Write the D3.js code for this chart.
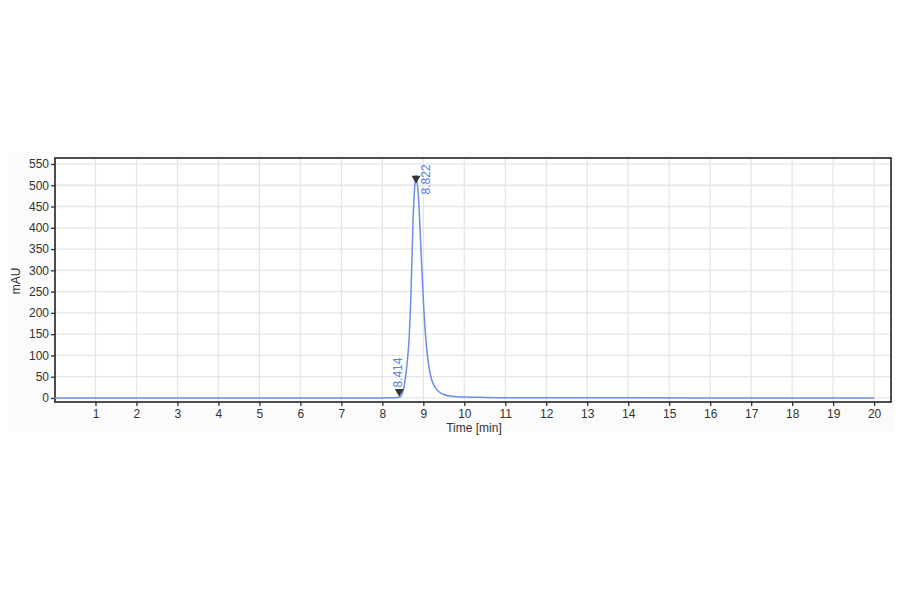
<!DOCTYPE html>
<html>
<head>
<meta charset="utf-8">
<script src="https://cdn.jsdelivr.net/npm/d3@7"></script>
<style>
  body { margin: 0; background: #fff; }
  text { font-family: "Liberation Sans", Arial, sans-serif; }
</style>
</head>
<body>
<div id="chroma"></div>
<script>
// chromatogram trace (time in min, signal in mAU)
const traceTime = [0, 2, 4, 6, 8, 8.3, 8.414, 8.5, 8.55, 8.6, 8.65, 8.7, 8.75, 8.8, 8.822,
  8.85, 8.87, 8.9, 8.95, 9.0, 9.05, 9.1, 9.15, 9.2, 9.3, 9.4, 9.5, 9.7, 10.0, 10.5, 11, 14, 17, 20];
const traceValue = [0, 0, 0, 0, 0, 0.3, 1.5, 14, 38, 78, 135, 250, 420, 508, 524,
  505, 488, 440, 330, 232, 152, 100, 66, 44, 23, 13, 8, 4, 2.2, 1.2, 0.6, 0.2, 0, 0];

// integration markers and their retention-time labels
const peakTimes = [8.414, 8.822];
const peakMarkerValues = [15, 516];
const peakLabels = ["8.414", "8.822"];

const xTicks = d3.range(1, 21);
const yTicks = d3.range(0, 551, 50);

const width = 900, height = 594;
const plot = {left: 55, right: 891, top: 158, bottom: 402};

const svg = d3.select("#chroma").append("svg")
  .attr("width", width)
  .attr("height", height);

// faint panel behind the plot
svg.append("rect")
  .attr("x", 8).attr("y", 152)
  .attr("width", 886).attr("height", 280)
  .attr("fill", "#fbfbfb");

svg.append("rect")
  .attr("x", plot.left).attr("y", plot.top)
  .attr("width", plot.right - plot.left).attr("height", plot.bottom - plot.top)
  .attr("fill", "#fff");

const x = d3.scaleLinear().domain([0, 20.4]).range([plot.left - 0.5, plot.right - 0.5]);
const y = d3.scaleLinear().domain([-9.5, 564]).range([plot.bottom, plot.top]);

// grid
svg.append("g").selectAll("line").data(xTicks).enter().append("line")
  .attr("x1", d => x(d)).attr("x2", d => x(d))
  .attr("y1", plot.top).attr("y2", plot.bottom)
  .attr("stroke", "#e6e6e6").attr("stroke-width", 1.3);
svg.append("g").selectAll("line").data(yTicks).enter().append("line")
  .attr("x1", plot.left).attr("x2", plot.right)
  .attr("y1", d => y(d)).attr("y2", d => y(d))
  .attr("stroke", "#e6e6e6").attr("stroke-width", 1.3);

// axes
const xAxis = svg.append("g")
  .attr("transform", `translate(0,${plot.bottom})`)
  .call(d3.axisBottom(x).tickValues(xTicks).tickSize(4).tickPadding(3).tickFormat(d3.format("d")));
const yAxis = svg.append("g")
  .attr("transform", `translate(${plot.left},0)`)
  .call(d3.axisLeft(y).tickValues(yTicks).tickSize(4).tickPadding(2).tickFormat(d3.format("d")));
[xAxis, yAxis].forEach(function (g) {
  g.select(".domain").remove();
  g.selectAll("line").attr("stroke", "#333").attr("stroke-width", 1.3);
  g.selectAll("text").attr("fill", "#333").style("font-size", "12px")
    .style("font-family", "'Liberation Sans', Arial, sans-serif");
});

// frame
svg.append("rect")
  .attr("x", plot.left).attr("y", plot.top)
  .attr("width", plot.right - plot.left).attr("height", plot.bottom - plot.top)
  .attr("fill", "none").attr("stroke", "#222").attr("stroke-width", 1.6);

// trace
const traceData = traceTime.map((t, i) => ({t: t, v: traceValue[i]}));
svg.append("path")
  .datum(traceData)
  .attr("fill", "none")
  .attr("stroke", "#6b8eea")
  .attr("stroke-width", 1.5)
  .attr("d", d3.line().x(d => x(d.t)).y(d => y(d.v)).curve(d3.curveMonotoneX));

// peak markers
const tri = d3.symbol().type(d3.symbolTriangle).size(34);
svg.append("g").selectAll("path").data(peakTimes).enter().append("path")
  .attr("d", tri)
  .attr("transform", (d, i) => `translate(${x(d)},${y(peakMarkerValues[i])}) rotate(180)`)
  .attr("fill", "#333");

// peak labels
svg.append("g").selectAll("text").data(peakTimes).enter().append("text")
  .attr("transform", (d, i) => `translate(${x(d) + (i === 0 ? 3 : 14)},${y(peakMarkerValues[i]) + (i === 0 ? -4 : 16)}) rotate(-90)`)
  .attr("fill", "#5a80e0")
  .style("font-size", "12px")
  .text((d, i) => peakLabels[i]);

// axis titles
svg.append("text")
  .attr("x", 474).attr("y", 432)
  .attr("text-anchor", "middle")
  .attr("fill", "#333")
  .style("font-size", "12px")
  .text("Time [min]");
svg.append("text")
  .attr("transform", "translate(20,281) rotate(-90)")
  .attr("text-anchor", "middle")
  .attr("fill", "#333")
  .style("font-size", "12px")
  .text("mAU");
</script>
</body>
</html>
